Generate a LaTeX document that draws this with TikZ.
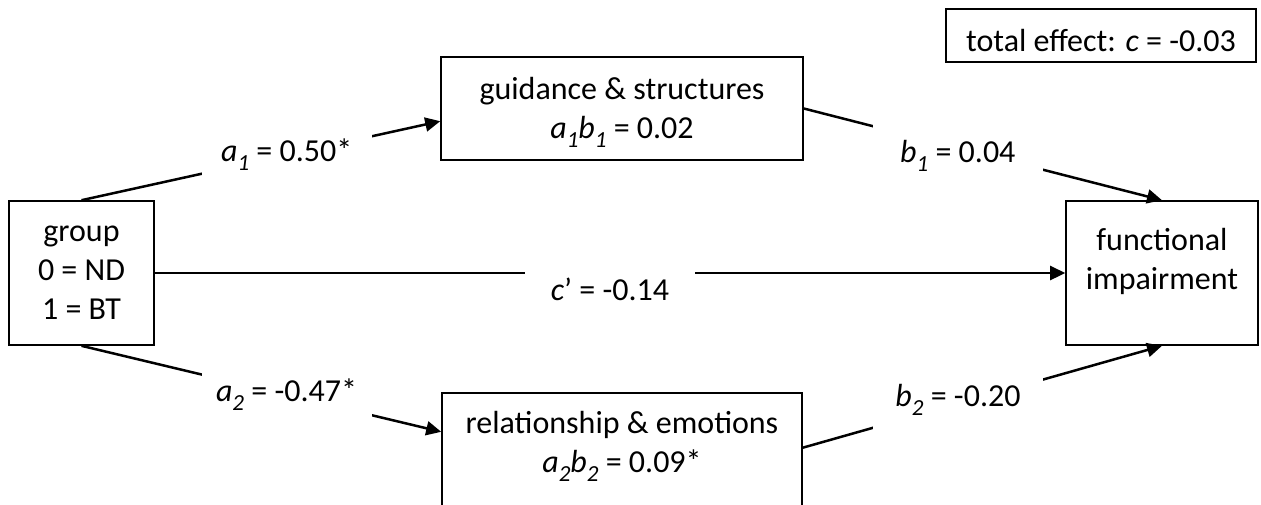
\documentclass[tikz,border=0pt]{standalone}
\usepackage{fontspec}
\setmainfont{Carlito}
\usetikzlibrary{arrows.meta}

\newcommand{\kSub}[1]{\raisebox{-4.5pt}{\fontsize{11.5}{11.5}\selectfont\itshape #1}}
\newcommand{\kVar}[2]{\textit{#1}\kSub{#2}}

\begin{document}
\begin{tikzpicture}[x=0.5pt,y=-0.5pt,
  font=\fontsize{16}{19.5}\selectfont,
  box/.style={draw,line width=0.8pt,inner sep=0pt},
  txt/.style={align=center,inner sep=0pt},
  lbl/.style={fill=white,inner sep=0pt,minimum width=85pt,minimum height=32pt},
  arr/.style={line width=1.25pt,-{Triangle[length=7.5pt,width=7pt]}}]
  \useasboundingbox (0,0) rectangle (1261,504);

  % boxes
  \node[box,minimum width=72.5pt,minimum height=72pt,
        label={[txt]center:group\\0 = ND\\1 = BT}] (grp) at (81.5,273) {};
  \node[box,minimum width=181pt,minimum height=51.5pt,
        label={[txt,yshift=-2pt]center:guidance \& structures\\\kVar{a}{1}\kVar{b}{1} = 0.02}] (guid) at (622,108.5) {};
  \node[box,minimum width=180pt,minimum height=61pt,
        label={[txt,yshift=4pt]center:relationship \& emotions\\\kVar{a}{2}\kVar{b}{2} = 0.09*}] (rel) at (622,454) {};
  \node[box,minimum width=96pt,minimum height=72pt,
        label={[txt,yshift=6pt]center:functional\\impairment}] (fun) at (1162,273) {};
  \node[box,minimum width=155pt,minimum height=26.5pt,
        label={[txt,yshift=-2.5pt]center:total effect: \textit{c} = -0.03}] (tot) at (1101,35.5) {};

  % paths
  \draw[arr] (grp.north) -- node[lbl,pos=0.572] {\kVar{a}{1} = 0.50*} (guid.184);
  \draw[arr] (guid.east) -- node[lbl,pos=0.43,yshift=-4pt] {\kVar{b}{1} = 0.04} (fun.north);
  \draw[arr] (grp.east) -- node[lbl,pos=0.5,yshift=-8pt] {\textit{c}’ = -0.14} (fun.west);
  \draw[arr] (grp.south) -- node[lbl,pos=0.57] {\kVar{a}{2} = -0.47*} (rel.173);
  \draw[arr] (rel.2) -- node[lbl,pos=0.432,yshift=2pt] {\kVar{b}{2} = -0.20} (fun.south);
\end{tikzpicture}
\end{document}
